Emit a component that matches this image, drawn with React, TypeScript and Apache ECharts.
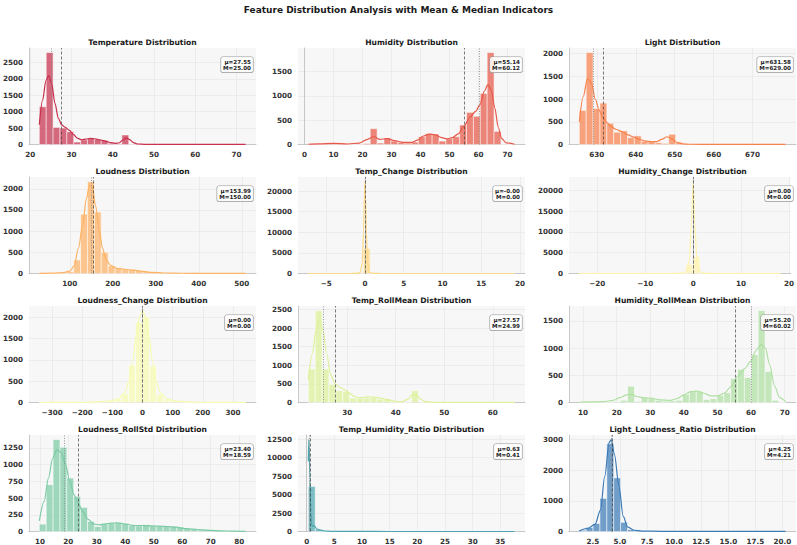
import React, { useEffect, useRef } from "react";
import * as echarts from "echarts";

// ---- data -----------------------------------------------------------------

const featureNames = [
  "Temperature", "Humidity", "Light",
  "Loudness", "Temp_Change", "Humidity_Change",
  "Loudness_Change", "Temp_RollMean", "Humidity_RollMean",
  "Loudness_RollStd", "Temp_Humidity_Ratio", "Light_Loudness_Ratio",
];

// [min, max] of each feature (histogram spans this range in 30 bins)
const dataRanges: [number, number][] = [
  [22.2, 72.2], [1.35, 72.45], [625.5, 678.5],
  [29, 509], [-7.3, 19.3], [-23.8, 18.2],
  [-342.5, 342.5], [22.0, 64.5], [8.9, 70.3],
  [9.8, 82.3], [0.3, 37.6], [1.25, 20.3],
];

const means = [27.55, 55.14, 631.58, 153.99, -0.001, 0.0, 0.0, 27.57, 55.2, 23.4, 0.63, 4.25];
const medians = [25.0, 60.12, 629.0, 150.0, 0.0, 0.0, 0.0, 24.99, 60.02, 18.59, 0.41, 4.21];

const xTickValues = [
  [20, 30, 40, 50, 60, 70],
  [0, 10, 20, 30, 40, 50, 60, 70],
  [630, 640, 650, 660, 670],
  [100, 200, 300, 400, 500],
  [-5, 0, 5, 10, 15, 20],
  [-20, -10, 0, 10, 20],
  [-300, -200, -100, 0, 100, 200, 300],
  [30, 40, 50, 60],
  [10, 20, 30, 40, 50, 60, 70],
  [10, 20, 30, 40, 50, 60, 70, 80],
  [0, 5, 10, 15, 20, 25, 30, 35],
  [2.5, 5, 7.5, 10, 12.5, 15, 17.5, 20],
];

const yTickValues = [
  [0, 500, 1000, 1500, 2000, 2500],
  [0, 500, 1000, 1500],
  [0, 500, 1000, 1500, 2000],
  [0, 500, 1000, 1500, 2000],
  [0, 5000, 10000, 15000, 20000],
  [0, 5000, 10000, 15000, 20000],
  [0, 500, 1000, 1500, 2000],
  [0, 500, 1000, 1500, 2000, 2500],
  [0, 500, 1000, 1500],
  [0, 250, 500, 750, 1000, 1250],
  [0, 2500, 5000, 7500, 10000, 12500],
  [0, 1000, 2000, 3000],
];

// histogram counts (30 bins each)
const temperatureCounts = [1150, 2800, 520, 500, 390, 75, 140, 180, 150, 120, 40, 20, 290, 10, 6, 4, 3, 3, 2, 2, 2, 2, 1, 1, 1, 1, 1, 1, 1, 1];
const humidityCounts = [5, 5, 10, 20, 15, 5, 3, 5, 20, 325, 30, 135, 70, 40, 30, 50, 160, 220, 215, 70, 120, 160, 400, 660, 580, 1050, 1890, 270, 5, 2];
const lightCounts = [750, 2020, 790, 910, 465, 270, 300, 150, 190, 70, 75, 40, 25, 225, 50, 10, 5, 3, 2, 2, 1, 1, 1, 1, 1, 1, 1, 1, 1, 1];
const loudnessCounts = [3, 5, 8, 15, 45, 320, 1400, 2170, 1450, 500, 180, 110, 90, 85, 70, 40, 20, 12, 8, 6, 5, 4, 3, 3, 2, 2, 1, 1, 1, 1];
const tempChangeCounts = [1, 1, 1, 2, 3, 5, 15, 250, 6100, 40, 10, 4, 2, 1, 1, 1, 1, 1, 0, 0, 0, 0, 0, 0, 0, 0, 0, 0, 0, 1];
const humidityChangeCounts = [1, 0, 0, 1, 1, 1, 1, 2, 2, 3, 3, 5, 8, 10, 20, 40, 2200, 4050, 40, 15, 8, 4, 3, 2, 1, 1, 1, 0, 0, 1];
const loudnessChangeCounts = [1, 1, 2, 2, 3, 5, 6, 10, 15, 25, 40, 70, 200, 870, 1880, 2010, 850, 190, 60, 35, 20, 12, 8, 5, 3, 2, 2, 1, 1, 1];
const tempRollMeanCounts = [900, 2470, 900, 485, 320, 300, 120, 110, 120, 135, 90, 85, 20, 10, 10, 320, 10, 4, 3, 2, 2, 1, 1, 1, 1, 1, 1, 1, 1, 1];
const humidityRollMeanCounts = [3, 5, 5, 5, 8, 15, 40, 300, 20, 100, 70, 40, 25, 30, 40, 150, 210, 200, 55, 70, 130, 180, 440, 610, 460, 880, 1690, 570, 40, 5];
const loudnessRollStdCounts = [110, 700, 1375, 1260, 800, 525, 360, 150, 75, 115, 125, 130, 120, 90, 85, 100, 90, 80, 80, 75, 65, 45, 35, 25, 25, 15, 10, 8, 5, 5];
const tempHumidityRatioCounts = [6100, 280, 60, 30, 20, 12, 8, 5, 4, 3, 2, 2, 2, 1, 1, 1, 1, 1, 1, 1, 1, 1, 1, 1, 1, 1, 1, 1, 1, 1];
const lightLoudnessRatioCounts = [40, 130, 260, 1080, 2870, 1750, 300, 60, 25, 15, 10, 8, 6, 5, 4, 3, 3, 2, 2, 2, 2, 1, 1, 1, 1, 1, 1, 1, 1, 1];

// density curves, scaled to counts: [x, count]
const temperatureKde = [[22.2, 600], [23, 1350], [23.8, 1950], [24.5, 2100], [25.2, 1850], [26, 1250], [26.8, 800], [27.6, 600], [28.5, 520], [29.5, 430], [30.5, 300], [31.5, 185], [32.5, 145], [33.5, 165], [34.5, 185], [35.5, 175], [36.5, 150], [37.5, 125], [38.5, 95], [39.5, 60], [40.5, 35], [41.5, 45], [42.5, 140], [43.3, 200], [44.1, 150], [45, 55], [46, 15], [48, 4], [55, 3], [62, 2], [72.2, 1]];
const humidityKde = [[1.35, 5], [5, 12], [10, 25], [15, 10], [19, 30], [21.5, 100], [24, 165], [26, 105], [28.5, 120], [31, 80], [34, 45], [37, 45], [39, 90], [41, 175], [43, 215], [45, 200], [47, 145], [49, 115], [51, 140], [53, 220], [55, 380], [57, 560], [59, 680], [60.5, 820], [62, 1100], [63.2, 1230], [64.4, 1120], [65.6, 750], [66.8, 350], [68, 120], [69.5, 35], [72.45, 5]];
const lightKde = [[625.5, 500], [626.5, 1050], [627.6, 1450], [628.6, 1350], [629.6, 1000], [630.6, 750], [631.6, 590], [632.6, 480], [633.8, 380], [635, 330], [636.5, 280], [638, 210], [639.5, 160], [641, 110], [642.5, 75], [644, 60], [645.5, 65], [646.8, 120], [648, 170], [649.2, 130], [650.5, 50], [652, 15], [654, 5], [660, 3], [670, 2], [678.5, 1]];
const loudnessKde = [[29, 3], [60, 8], [85, 20], [100, 55], [110, 180], [120, 600], [130, 1150], [138, 1750], [146, 2080], [152, 2050], [160, 1600], [168, 1050], [176, 600], [184, 330], [195, 190], [210, 120], [230, 95], [250, 80], [270, 50], [290, 25], [320, 12], [360, 6], [420, 3], [509, 1]];
const tempChangeKde = [[-7.3, 0], [-2, 1], [-1, 30], [-0.6, 300], [-0.35, 2500], [-0.18, 10000], [-0.07, 19000], [0, 22300], [0.07, 19000], [0.18, 10000], [0.35, 2500], [0.6, 300], [1, 30], [2, 2], [19.3, 0]];
const humidityChangeKde = [[-23.8, 0], [-5, 2], [-2.5, 30], [-1.5, 400], [-0.8, 3000], [-0.35, 12000], [0, 22100], [0.35, 12000], [0.8, 3000], [1.5, 400], [2.5, 30], [5, 2], [18.2, 0]];
const loudnessChangeKde = [[-342.5, 0], [-250, 3], [-200, 6], [-150, 15], [-110, 35], [-80, 80], [-60, 220], [-45, 500], [-32, 1000], [-20, 1600], [-10, 2000], [0, 2150], [10, 2000], [20, 1600], [32, 1000], [45, 500], [60, 220], [80, 80], [110, 35], [150, 15], [200, 6], [250, 3], [342.5, 0]];
const tempRollMeanKde = [[22, 600], [22.8, 1300], [23.6, 1950], [24.3, 2250], [25, 1950], [25.8, 1300], [26.6, 750], [27.5, 500], [28.5, 410], [29.5, 340], [30.5, 250], [31.5, 160], [32.5, 125], [33.5, 135], [34.5, 150], [35.5, 145], [36.5, 125], [37.5, 100], [38.5, 75], [39.5, 45], [40.5, 20], [41.5, 25], [42.5, 90], [43.5, 210], [44.3, 190], [45.2, 80], [46.2, 15], [48, 4], [55, 2], [64.5, 1]];
const humidityRollMeanKde = [[8.9, 5], [12, 10], [16, 15], [19, 40], [21, 90], [23, 140], [24.5, 150], [26, 110], [28, 85], [30, 80], [33, 50], [36, 40], [38, 70], [40, 140], [42, 200], [44, 210], [46, 170], [48, 120], [50, 120], [52, 170], [54, 290], [56, 480], [58, 620], [60, 760], [61.5, 960], [63, 1070], [64.3, 1000], [65.5, 700], [67, 300], [68.5, 90], [70.3, 15]];
const loudnessRollStdKde = [[9.8, 160], [11.5, 450], [13, 800], [14.5, 1100], [16, 1220], [17.5, 1180], [19, 1000], [20.5, 750], [22, 550], [23.5, 420], [25, 300], [27, 180], [29, 110], [31, 100], [33, 115], [35, 125], [37, 130], [39, 120], [41, 105], [43, 90], [46, 90], [49, 85], [52, 80], [55, 75], [58, 65], [61, 45], [64, 35], [67, 25], [70, 18], [74, 10], [78, 5], [82.3, 2]];
const tempHumidityRatioKde = [[0.3, 9500], [0.38, 12450], [0.46, 11800], [0.6, 7000], [0.75, 2500], [0.9, 900], [1.1, 700], [1.3, 850], [1.5, 650], [1.8, 350], [2.2, 250], [2.7, 150], [3.3, 70], [4.5, 30], [6, 15], [9, 6], [15, 3], [25, 1], [37.6, 0]];
const lightLoudnessRatioKde = [[1.25, 20], [2, 100], [2.7, 230], [3.2, 700], [3.6, 1800], [4.0, 2900], [4.2, 3000], [4.5, 2500], [4.9, 1500], [5.3, 500], [5.7, 150], [6.3, 40], [7, 15], [9, 5], [12, 3], [20.3, 1]];

const histCounts = [
  temperatureCounts, humidityCounts, lightCounts,
  loudnessCounts, tempChangeCounts, humidityChangeCounts,
  loudnessChangeCounts, tempRollMeanCounts, humidityRollMeanCounts,
  loudnessRollStdCounts, tempHumidityRatioCounts, lightLoudnessRatioCounts,
];
const kdeCurves = [
  temperatureKde, humidityKde, lightKde,
  loudnessKde, tempChangeKde, humidityChangeKde,
  loudnessChangeKde, tempRollMeanKde, humidityRollMeanKde,
  loudnessRollStdKde, tempHumidityRatioKde, lightLoudnessRatioKde,
];

// ---- styling & layout -------------------------------------------------------

// "Spectral" palette, one colour per feature
const palette = [
  "#c8304c", "#e65748", "#f7814c", "#fdb264", "#fed885", "#fff3ab",
  "#f6fbb0", "#ddf19a", "#b0dfa3", "#7ccaa5", "#4ea7b0", "#3c7bb7",
];

const FONT = '"DejaVu Sans", sans-serif';
const COL_LEFT = [29, 298, 569];
const ROW_TOP = [48, 177, 306, 435];
const PANEL_W = 227;
const PANEL_H = 96.5;

function hexToRgba(hex: string, a: number) {
  const n = parseInt(hex.slice(1), 16);
  return `rgba(${(n >> 16) & 255},${(n >> 8) & 255},${n & 255},${a})`;
}

function tickText(v: number, decimals: number) {
  const s = decimals > 0 ? v.toFixed(decimals) : String(Math.round(v));
  return s.replace("-", "\u2212");
}

function buildOption() {
  const grid: any[] = [];
  const xAxis: any[] = [];
  const yAxis: any[] = [];
  const series: any[] = [];
  const graphic: any[] = [];

  graphic.push({
    type: "text",
    x: 398.5,
    y: 10,
    z: 100,
    style: {
      text: "Feature Distribution Analysis with Mean & Median Indicators",
      align: "center",
      verticalAlign: "middle",
      fill: "#1a1a1a",
      fontFamily: FONT,
      fontWeight: "bold",
      fontSize: 9,
    },
  });

  featureNames.forEach((name, i) => {
    const left = COL_LEFT[i % 3];
    const top = ROW_TOP[Math.floor(i / 3)];
    const [lo, hi] = dataRanges[i];
    const pad = (hi - lo) * 0.05;
    const counts = histCounts[i];
    const kde = kdeCurves[i];
    const binW = (hi - lo) / counts.length;
    const yMax = Math.max(...counts, ...kde.map((p) => p[1])) * 1.05;
    const color = palette[i];
    const decimals = i === 11 ? 1 : 0;

    grid.push({
      left, top, width: PANEL_W, height: PANEL_H,
      show: true, backgroundColor: "#f7f7f7", borderWidth: 0,
    });

    xAxis.push({
      type: "value",
      gridIndex: i,
      min: lo - pad,
      max: hi + pad,
      axisLine: { show: true, onZero: false, lineStyle: { color: "#bdbdbd", width: 0.8 } },
      axisTick: { show: false, customValues: xTickValues[i] },
      axisLabel: {
        customValues: xTickValues[i],
        formatter: (v: number) => tickText(v, decimals),
        fontFamily: FONT, fontWeight: "bold", fontSize: 7.2, color: "#333", margin: 6,
      },
      splitLine: { show: true, lineStyle: { color: "#e4e4e4", width: 0.6 } },
    });

    yAxis.push({
      type: "value",
      gridIndex: i,
      min: 0,
      max: yMax,
      axisLine: { show: true, lineStyle: { color: "#bdbdbd", width: 0.8 } },
      axisTick: { show: false, customValues: yTickValues[i] },
      axisLabel: {
        customValues: yTickValues[i],
        formatter: (v: number) => tickText(v, 0),
        fontFamily: FONT, fontWeight: "bold", fontSize: 7.2, color: "#333", margin: 6,
      },
      splitLine: { show: true, lineStyle: { color: "#e4e4e4", width: 0.6 } },
    });

    const fill = hexToRgba(color, 0.72);
    series.push({
      type: "custom",
      xAxisIndex: i,
      yAxisIndex: i,
      silent: true,
      encode: { x: [0, 1], y: 2 },
      data: counts.map((c, k) => [lo + k * binW, lo + (k + 1) * binW, c]),
      renderItem: (_params: any, api: any) => {
        const p0 = api.coord([api.value(0), api.value(2)]);
        const p1 = api.coord([api.value(1), 0]);
        return {
          type: "rect",
          shape: { x: p0[0], y: p0[1], width: p1[0] - p0[0], height: p1[1] - p0[1] },
          style: { fill, stroke: "#ffffff", lineWidth: 0.5 },
        };
      },
      z: 2,
    });

    series.push({
      type: "line",
      xAxisIndex: i,
      yAxisIndex: i,
      data: kde,
      smooth: 0.3,
      smoothMonotone: "x",
      showSymbol: false,
      silent: true,
      lineStyle: { color, width: 1.2 },
      z: 3,
      markLine: {
        silent: true,
        symbol: "none",
        label: { show: false },
        data: [
          { xAxis: means[i], lineStyle: { color: "#3a3a3a", type: [3, 2], width: 0.85, opacity: 0.8 } },
          { xAxis: medians[i], lineStyle: { color: "#8a8a8a", type: [1, 1.5], width: 0.85 } },
        ],
      },
    });

    graphic.push({
      type: "text",
      x: left + PANEL_W / 2,
      y: top - 6,
      z: 100,
      style: {
        text: `${name} Distribution`,
        align: "center",
        verticalAlign: "middle",
        fill: "#1a1a1a",
        fontFamily: FONT,
        fontWeight: "bold",
        fontSize: 7.6,
      },
    });

    graphic.push({
      type: "text",
      x: left + PANEL_W - 3,
      y: top + 9,
      z: 100,
      style: {
        text: `\u03bc=${means[i].toFixed(2)}\nM=${medians[i].toFixed(2)}`,
        align: "right",
        verticalAlign: "top",
        fill: "#222",
        fontFamily: FONT,
        fontWeight: "bold",
        fontSize: 5.6,
        lineHeight: 6.4,
        backgroundColor: "rgba(255,255,255,0.85)",
        borderColor: "#9a9a9a",
        borderWidth: 0.6,
        borderRadius: 2,
        padding: [1.5, 2, 1, 2],
      },
    });
  });

  return {
    animation: false,
    backgroundColor: "#ffffff",
    grid,
    xAxis,
    yAxis,
    series,
    graphic,
  };
}

export default function App() {
  const ref = useRef<HTMLDivElement>(null);

  useEffect(() => {
    if (!ref.current) return;
    const chart = echarts.init(ref.current, undefined, { renderer: "svg" });
    chart.setOption(buildOption() as any);
    return () => chart.dispose();
  }, []);

  return (
    <div
      ref={ref}
      style={{ position: "fixed", left: 0, top: 0, width: 797, height: 545, background: "#fff" }}
    />
  );
}
